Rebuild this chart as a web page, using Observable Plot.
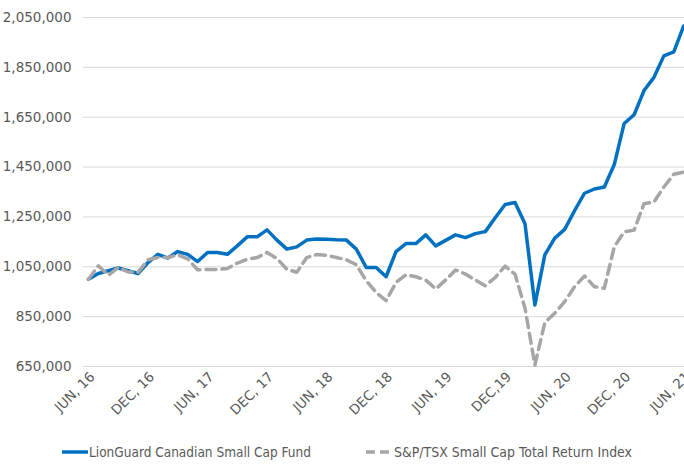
<!DOCTYPE html>
<html>
<head>
<meta charset="utf-8">
<script src="https://cdn.jsdelivr.net/npm/d3@7"></script>
<script src="https://cdn.jsdelivr.net/npm/@observablehq/plot@0.6"></script>
<style>
  html, body { margin: 0; padding: 0; background: #fff; }
  #chart { width: 684px; height: 435px; }
  #legend { width: 684px; height: 30px; }
</style>
</head>
<body>
<div id="chart"></div>
<div id="legend"></div>
<script>
// Monthly values, Jun 2016 .. Jun 2021 (61 months)
const fundName = "LionGuard Canadian Small Cap Fund";
const indexName = "S&P/TSX Small Cap Total Return Index";

const fundValues = [
  1000000, 1023000, 1034000, 1045000, 1034000, 1023000, 1067000, 1100000, 1085000, 1111000,
  1100000, 1071000, 1107000, 1107000, 1100000, 1134000, 1170000, 1170000, 1198000, 1157000,
  1121000, 1130000, 1157000, 1161000, 1160000, 1158000, 1157000, 1121000, 1047000, 1047000,
  1010000, 1111000, 1143000, 1143000, 1178000, 1134000, 1156000, 1178000, 1167000, 1183000,
  1191000, 1247000, 1300000, 1308000, 1223000, 897000, 1098000, 1165000, 1200000, 1275000,
  1345000, 1362000, 1370000, 1460000, 1625000, 1660000, 1757000, 1810000, 1896000, 1912000,
  2016000
];

const indexValues = [
  1000000, 1054000, 1016000, 1047000, 1029000, 1028000, 1078000, 1087000, 1087000, 1098000,
  1082000, 1038000, 1039000, 1039000, 1043000, 1065000, 1080000, 1087000, 1107000, 1083000,
  1040000, 1028000, 1087000, 1099000, 1096000, 1087000, 1078000, 1058000, 994000, 947000,
  914000, 987000, 1018000, 1010000, 997000, 961000, 997000, 1037000, 1021000, 997000,
  974000, 1007000, 1053000, 1020000, 884000, 656000, 826000, 864000, 910000, 970000,
  1013000, 970000, 964000, 1130000, 1190000, 1197000, 1303000, 1310000, 1370000, 1421000,
  1430000
];

const xTickLabels = ["JUN, 16", "DEC, 16", "JUN, 17", "DEC, 17", "JUN, 18", "DEC, 18",
                     "JUN, 19", "DEC,19", "JUN, 20", "DEC, 20", "JUN, 21"];
const xTickStep = 6; // months between labels
const yTicks = [650000, 850000, 1050000, 1250000, 1450000, 1650000, 1850000, 2050000];

const fundData = fundValues.map((v, i) => ({i, v, s: fundName}));
const indexData = indexValues.map((v, i) => ({i, v, s: indexName}));
const xTicks = xTickLabels.map((_, k) => k * xTickStep);

const font = "'DejaVu Sans', Verdana, sans-serif";

const chart = Plot.plot({
  width: 684,
  height: 435,
  marginTop: 17,
  marginBottom: 69,
  marginLeft: 83,
  marginRight: 0,
  style: {fontFamily: font, fontSize: "13.5px", color: "#595959", background: "#fff", overflow: "visible"},
  x: {type: "linear", domain: [-0.5, fundValues.length - 1 + 0.08], label: null},
  y: {domain: [yTicks[0], yTicks[yTicks.length - 1]], label: null},
  marks: [
    Plot.gridY(yTicks, {stroke: "#d9d9d9", strokeOpacity: 1, strokeWidth: 1}),
    Plot.axisY(yTicks, {tickSize: 0, tickPadding: 12, tickFormat: d3.format(","), fontSize: 13.5, label: null}),
    Plot.axisX(xTicks, {tickSize: 0, tickRotate: -45, tickPadding: 8, dx: 4,
      tickFormat: d => xTickLabels[d / xTickStep], fontSize: 13.5, label: null}),
    Plot.line(fundData, {x: "i", y: "v", stroke: "#0070C0", strokeWidth: 3.5,
      strokeLinejoin: "round", strokeLinecap: "round"}),
    Plot.line(indexData, {x: "i", y: "v", stroke: "#A6A6A6", strokeWidth: 3.5,
      strokeDasharray: "10,6", strokeLinejoin: "round"})
  ]
});
document.getElementById("chart").appendChild(chart);

// Legend (below the plot)
const ns = "http://www.w3.org/2000/svg";
const lg = document.createElementNS(ns, "svg");
lg.setAttribute("width", 684);
lg.setAttribute("height", 30);
const items = [
  {name: fundName, color: "#0070C0", dash: null, x0: 62, x1: 88, tx: 89, tw: 222},
  {name: indexName, color: "#A6A6A6", dash: "9,5", x0: 366, x1: 393, tx: 394, tw: 238}
];
for (const it of items) {
  const l = document.createElementNS(ns, "line");
  l.setAttribute("x1", it.x0); l.setAttribute("x2", it.x1);
  l.setAttribute("y1", 17); l.setAttribute("y2", 17);
  l.setAttribute("stroke", it.color); l.setAttribute("stroke-width", 3.5);
  if (it.dash) l.setAttribute("stroke-dasharray", it.dash);
  lg.appendChild(l);
  const t = document.createElementNS(ns, "text");
  t.setAttribute("x", it.tx); t.setAttribute("y", 17);
  t.setAttribute("dy", "0.35em");
  t.setAttribute("fill", "#595959");
  t.setAttribute("font-family", "'DejaVu Sans Condensed', 'DejaVu Sans', sans-serif");
  t.setAttribute("font-size", 13.5);
  t.setAttribute("textLength", it.tw);
  t.setAttribute("lengthAdjust", "spacingAndGlyphs");
  t.textContent = it.name;
  lg.appendChild(t);
}
document.getElementById("legend").appendChild(lg);
</script>
</body>
</html>
